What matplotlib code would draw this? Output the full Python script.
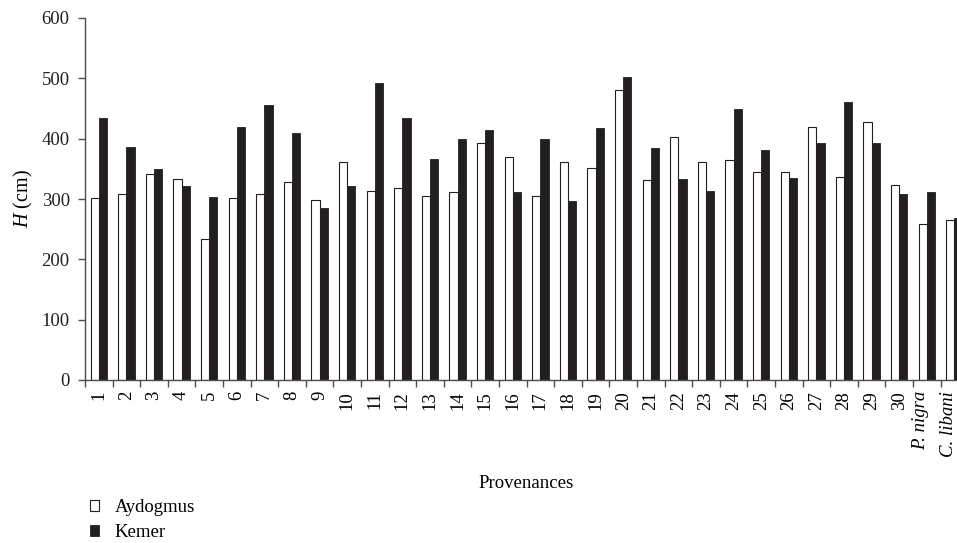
import matplotlib
matplotlib.use("Agg")
import matplotlib.pyplot as plt
import numpy as np

categories = [str(i) for i in range(1, 31)] + ["P. nigra", "C. libani"]
aydogmus = [301, 309, 341, 333, 234, 301, 309, 328, 299, 362,
            314, 318, 305, 312, 393, 370, 305, 361, 352, 480,
            331, 402, 362, 364, 344, 345, 419, 336, 427, 324,
            259, 266]
kemer = [434, 387, 349, 322, 303, 419, 456, 410, 285, 321,
         493, 434, 366, 399, 414, 312, 399, 297, 417, 503,
         384, 333, 313, 449, 381, 335, 392, 461, 392, 308,
         312, 268]
yticks = [0, 100, 200, 300, 400, 500, 600]

plt.rcParams['font.family'] = ['Liberation Serif', 'DejaVu Serif']
plt.rcParams['mathtext.fontset'] = 'custom'
plt.rcParams['mathtext.rm'] = 'Liberation Serif'
plt.rcParams['mathtext.it'] = 'Liberation Serif:italic'

W, H = 957, 543
fig = plt.figure(figsize=(W / 100, H / 100), dpi=100)
n = len(categories)
group_px = 27.6
left_px, top_px, bottom_px = 85, 18, 380
ax = fig.add_axes([left_px / W, (H - bottom_px) / H, n * group_px / W, (bottom_px - top_px) / H])

x = np.arange(n) + 0.5
bw = 0.3
dark = '#231f20'
ax.bar(x - bw / 2, aydogmus, bw, color='white', edgecolor=dark, linewidth=0.8, label='Aydogmus')
ax.bar(x + bw / 2, kemer, bw, color=dark, edgecolor=dark, linewidth=0.6, label='Kemer')

fs = 13.5
ax.set_xlim(0, n)
ax.set_ylim(0, 600)
ax.set_yticks(yticks)
ax.set_yticklabels([str(v) for v in yticks], fontsize=fs)
ax.set_xticks(np.arange(n + 1))
ax.set_xticklabels([])
# label anchors (zero-length minor ticks); italic species names sit slightly left
label_pos = np.array([xi - 0.22 if '.' in c else xi for xi, c in zip(x, categories)])
ax.set_xticks(label_pos, minor=True)
ax.set_xticklabels(categories, minor=True, rotation=90, fontsize=fs, va='top', ha='center')
for lbl in ax.get_xticklabels(minor=True):
    if '.' in lbl.get_text():
        lbl.set_fontstyle('italic')
ax.tick_params(axis='x', which='minor', length=0, pad=8)
ax.tick_params(axis='x', which='major', length=5, direction='out', color='#4d4d4d', width=1)
ax.tick_params(axis='y', length=5, direction='out', pad=6, color='#4d4d4d', width=1, labelcolor='#231f20')

for s in ['top', 'right']:
    ax.spines[s].set_visible(False)
for s in ['left', 'bottom']:
    ax.spines[s].set_color('#4d4d4d')
    ax.spines[s].set_linewidth(1)

ax.set_ylabel('$H$ (cm)', fontsize=14.5, labelpad=5)
fig.text(526 / W, 1 - 484 / H, 'Provenances', fontsize=fs, ha='center', va='center')

handles, labels = ax.get_legend_handles_labels()
fig.legend(handles, labels, loc='upper left', bbox_to_anchor=(90 / W, 1 - 499 / H),
           frameon=False, fontsize=fs, handlelength=0.5, handleheight=0.5,
           handletextpad=0.8, labelspacing=0.45, borderaxespad=0, borderpad=0)

fig.savefig('out.png', dpi=100)
